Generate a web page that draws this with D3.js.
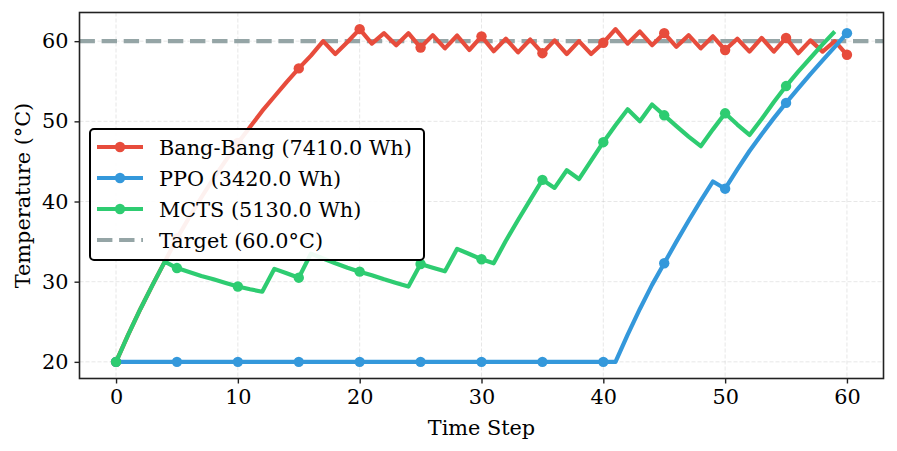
<!DOCTYPE html>
<html>
<head>
<meta charset="utf-8">
<script src="https://cdn.jsdelivr.net/npm/d3@7"></script>
<style>
  body { margin: 0; background: #fff; }
  text { font-family: "DejaVu Serif", serif; }
</style>
</head>
<body>
<div id="chart-wrapper"></div>
<script>
let width = 897
let height = 451

// temperature per time step
let bangBang = [
  20, 23.4, 26.6, 29.6, 32.5, 35.4, 38.0, 40.5, 42.9, 45.1,
  47.3, 49.3, 51.3, 53.1, 54.9, 56.6, 58.2, 60.0, 58.4, 59.9,
  61.5, 59.7, 61.0, 59.5, 61.0, 59.2, 60.75, 59.1, 60.7, 58.9,
  60.6, 58.75, 60.3, 58.6, 60.2, 58.5, 60.1, 58.4, 60.0, 58.4,
  59.8, 61.5, 59.7, 61.2, 59.5, 61.0, 59.3, 60.75, 59.1, 60.6,
  58.9, 60.3, 58.7, 60.4, 58.7, 60.4, 58.5, 60.1, 58.7, 60.0,
  58.3
]
let ppo = [
  20, 20, 20, 20, 20, 20, 20, 20, 20, 20,
  20, 20, 20, 20, 20, 20, 20, 20, 20, 20,
  20, 20, 20, 20, 20, 20, 20, 20, 20, 20,
  20, 20, 20, 20, 20, 20, 20, 20, 20, 20,
  20, 20, 23.4, 26.6, 29.6, 32.3, 35.0, 37.6, 40.1, 42.5,
  41.6, 44.0, 46.3, 48.4, 50.4, 52.3, 54.1, 55.9, 57.6, 59.3,
  61.0
]
let mcts = [
  20, 23.4, 26.6, 29.6, 32.5, 31.7, 31.2, 30.7, 30.3, 29.85,
  29.4, 29.05, 28.75, 31.6, 31.05, 30.5, 33.5, 32.9, 32.3, 31.75,
  31.25, 30.8, 30.3, 29.85, 29.4, 32.2, 31.75, 31.3, 34.1, 33.45,
  32.8, 32.3, 35.1, 37.7, 40.2, 42.7, 41.7, 43.9, 42.8, 45.1,
  47.4, 49.5, 51.5, 50.0, 52.1, 50.75, 49.4, 48.1, 46.9, 49.0,
  51.0, 49.6, 48.3, 50.3, 52.4, 54.4, 56.2, 57.9, 59.6, 61.2
]
let target = 60
let seriesNames = ["Bang-Bang (7410.0 Wh)", "PPO (3420.0 Wh)", "MCTS (5130.0 Wh)"]
let targetName = "Target (60.0°C)"
let color = ["#e74c3c", "#3498db", "#2ecc71", "#95a5a6"]
let xTicks = [0, 10, 20, 30, 40, 50, 60]
let yTicks = [20, 30, 40, 50, 60]

let fontSize = 20.8
let margin = {top: 12.5, right: 13.5, bottom: 72.5, left: 79.5}
let graphWidth = width - margin.left - margin.right
let graphHeight = height - margin.top - margin.bottom

let svg = d3
  .select("#chart-wrapper")
  .append("svg")
  .attr("width", width)
  .attr("height", height)
let graph = svg
  .append("g")
  .attr("class", "graph")
  .attr("transform", `translate(${margin.left},${margin.top})`)

// matplotlib-like 5% padding
let all = bangBang.concat(ppo, mcts)
let yMin = d3.min(all), yMax = d3.max(all)
let yPad = (yMax - yMin) * 0.05
let x = d3.scaleLinear().domain([-3, 63]).range([0, graphWidth])
let y = d3.scaleLinear().domain([yMin - yPad, yMax + yPad]).range([graphHeight, 0])

// Grid
graph.append("g")
  .selectAll("line")
  .data(xTicks)
  .join("line")
  .attr("x1", d => x(d)).attr("x2", d => x(d))
  .attr("y1", 0).attr("y2", graphHeight)
  .attr("stroke", "#b0b0b0").attr("stroke-opacity", 0.3)
  .attr("stroke-width", 1).attr("stroke-dasharray", "4,2")
graph.append("g")
  .selectAll("line")
  .data(yTicks)
  .join("line")
  .attr("x1", 0).attr("x2", graphWidth)
  .attr("y1", d => y(d)).attr("y2", d => y(d))
  .attr("stroke", "#b0b0b0").attr("stroke-opacity", 0.3)
  .attr("stroke-width", 1).attr("stroke-dasharray", "4,2")

// Target line
graph.append("line")
  .attr("x1", 0).attr("x2", graphWidth)
  .attr("y1", y(target)).attr("y2", y(target))
  .attr("stroke", color[3])
  .attr("stroke-width", 4.2)
  .attr("stroke-dasharray", "15.4,6.7")

let line = d3.line()
  .x((d, i) => x(i))
  .y(d => y(d))

let series = [bangBang, ppo, mcts]
series.forEach((s, k) => {
  graph.append("path")
    .attr("fill", "none")
    .attr("stroke", color[k])
    .attr("stroke-width", 4.2)
    .attr("stroke-linejoin", "round")
    .attr("d", line(s))
  graph.append("g")
    .selectAll("circle")
    .data(s.map((d, i) => [i, d]).filter(p => p[0] % 5 == 0))
    .join("circle")
    .attr("cx", p => x(p[0]))
    .attr("cy", p => y(p[1]))
    .attr("r", 5.2)
    .attr("fill", color[k])
})

// X Axis
let xAxis = d3.axisBottom(x).tickValues(xTicks).tickSize(5).tickPadding(6)
graph.append("g")
  .attr("class", "xAxis")
  .attr("transform", `translate(0, ${graphHeight})`)
  .call(xAxis)
// Y Axis
let yAxis = d3.axisLeft(y).tickValues(yTicks).tickSize(5).tickPadding(6)
graph.append("g")
  .attr("class", "yAxis")
  .call(yAxis)

// Frame
graph.append("rect")
  .attr("width", graphWidth).attr("height", graphHeight)
  .attr("fill", "none").attr("stroke", "#222").attr("stroke-width", 1.6)

d3.selectAll(".xAxis path, .yAxis path").remove()
d3.selectAll(".xAxis line, .yAxis line").attr("stroke", "#222").attr("stroke-width", 1.4)
d3.selectAll(".xAxis text, .yAxis text")
  .attr("fill", "#000").attr("font-size", fontSize).attr("font-family", "DejaVu Serif")

// Labels
svg.append("text")
  .attr("x", margin.left + graphWidth / 2)
  .attr("y", 435)
  .attr("text-anchor", "middle")
  .attr("font-size", fontSize)
  .text("Time Step")
svg.append("text")
  .attr("transform", `translate(30, ${margin.top + graphHeight / 2}) rotate(-90)`)
  .attr("text-anchor", "middle")
  .attr("font-size", fontSize)
  .text("Temperature (°C)")

// Legend
let legend = svg.append("g").attr("transform", "translate(90, 129)")
legend.append("rect")
  .attr("width", 334).attr("height", 131)
  .attr("rx", 4)
  .attr("fill", "#fff").attr("fill-opacity", 0.92)
  .attr("stroke", "#000").attr("stroke-width", 2)
let rows = seriesNames.concat([targetName])
rows.forEach((name, k) => {
  let ry = 18 + k * 31
  let row = legend.append("g").attr("transform", `translate(0, ${ry})`)
  if (k < 3) {
    row.append("line")
      .attr("x1", 7).attr("x2", 53).attr("y1", 0).attr("y2", 0)
      .attr("stroke", color[k]).attr("stroke-width", 4.2)
    row.append("circle").attr("cx", 30).attr("cy", 0).attr("r", 5.2).attr("fill", color[k])
  } else {
    row.append("line")
      .attr("x1", 7).attr("x2", 53).attr("y1", 0).attr("y2", 0)
      .attr("stroke", color[3]).attr("stroke-width", 4.2)
      .attr("stroke-dasharray", "15.4,6.7")
  }
  row.append("text")
    .attr("x", 69).attr("y", 7.5)
    .attr("font-size", fontSize)
    .text(name)
})
</script>
</body>
</html>
